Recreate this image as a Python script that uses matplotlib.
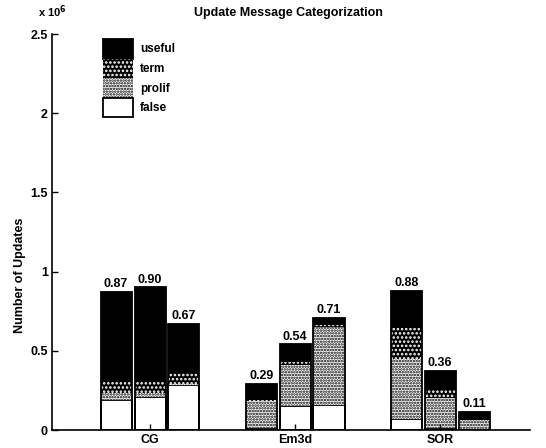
import matplotlib
matplotlib.use("Agg")
import matplotlib.pyplot as plt
import numpy as np
from matplotlib.patches import Patch

plt.rcParams['font.family'] = ['Liberation Sans', 'DejaVu Sans']
plt.rcParams['font.weight'] = 'bold'
plt.rcParams['hatch.linewidth'] = 1.2

groups = ["CG", "Em3d", "SOR"]
# values in units of 1e6, three bars per group
false_v  = [0.19, 0.21, 0.284, 0.01, 0.15, 0.16, 0.07, 0.01, 0.005]
prolif_v = [0.045, 0.025, 0.005, 0.17, 0.26, 0.49, 0.38, 0.19, 0.055]
term_v   = [0.07, 0.075, 0.08, 0.01, 0.02, 0.01, 0.20, 0.06, 0.005]
useful_v = [0.565, 0.59, 0.30, 0.10, 0.11, 0.045, 0.23, 0.11, 0.05]
bar_labels = ["0.87", "0.90", "0.67", "0.29", "0.54", "0.71", "0.88", "0.36", "0.11"]

fig = plt.figure(figsize=(5.46, 4.48), dpi=100)
ax = fig.add_axes([52/546, 1-430/448, (530-52)/546, (430-34)/448])

group_x = np.arange(1, len(groups)+1)
offsets = np.array([-0.234, 0.0, 0.234])
width = 0.214
xs = (group_x[:, None] + offsets[None, :]).ravel()

f = np.array(false_v); p = np.array(prolif_v); t = np.array(term_v); u = np.array(useful_v)
lw = 1.3
PROLIF_HATCH = '......'
TERM_HATCH = '....'
ax.bar(xs, f, width, color='white', edgecolor='black', linewidth=lw)
ax.bar(xs, p, width, bottom=f, color='white', edgecolor='black', hatch=PROLIF_HATCH, linewidth=0)
ax.bar(xs, t, width, bottom=f+p, color='black', edgecolor='white', hatch=TERM_HATCH, linewidth=0)
ax.bar(xs, u, width, bottom=f+p+t, color='black', edgecolor='black', linewidth=0)
tot = f+p+t+u
ax.bar(xs, tot, width, fill=False, edgecolor='black', linewidth=lw)

for x, h, lab in zip(xs, tot, bar_labels):
    ax.text(x, h + 0.012, lab, ha='center', va='bottom', fontsize=9, fontweight='bold')

ax.set_xlim(0.324, 3.62)
ax.set_ylim(0, 2.5)
ax.set_xticks(group_x)
ax.set_xticklabels(groups, fontsize=9, fontweight='bold')
ax.set_yticks([0, 0.5, 1, 1.5, 2, 2.5])
ax.set_yticklabels(["0", "0.5", "1", "1.5", "2", "2.5"], fontsize=9, fontweight='bold')
ax.tick_params(direction='in', length=4, width=1, pad=3)
ax.spines['top'].set_visible(False)
ax.spines['right'].set_visible(False)
ax.spines['left'].set_linewidth(1.2)
ax.spines['bottom'].set_linewidth(1.2)

ax.set_ylabel("Number of Updates", fontsize=9, fontweight='bold')
ax.yaxis.set_label_coords(-0.054, 0.39)
fig.text(288/546, 1-13/448, "Update Message Categorization", fontsize=9, fontweight='bold',
         ha='center', va='center')
ax.text(-0.03, 1.035, r"x 10$^{6}$", transform=ax.transAxes, fontsize=8, fontweight='bold',
        ha='left', va='bottom')

handles = [
    Patch(facecolor='black', edgecolor='black', linewidth=lw),
    Patch(facecolor='black', edgecolor='white', hatch=TERM_HATCH, linewidth=0),
    Patch(facecolor='white', edgecolor='black', hatch=PROLIF_HATCH, linewidth=0),
    Patch(facecolor='white', edgecolor='black', linewidth=lw),
]
leg = ax.legend(handles, ["useful", "term", "prolif", "false"], loc='upper left',
                bbox_to_anchor=((103-52)/478, (430-39)/396), frameon=False, fontsize=8.5,
                handlelength=2.55, handleheight=2.17, labelspacing=0.0, handletextpad=0.6,
                borderpad=0.0, borderaxespad=0.0)

fig.savefig("out.png", dpi=100)
